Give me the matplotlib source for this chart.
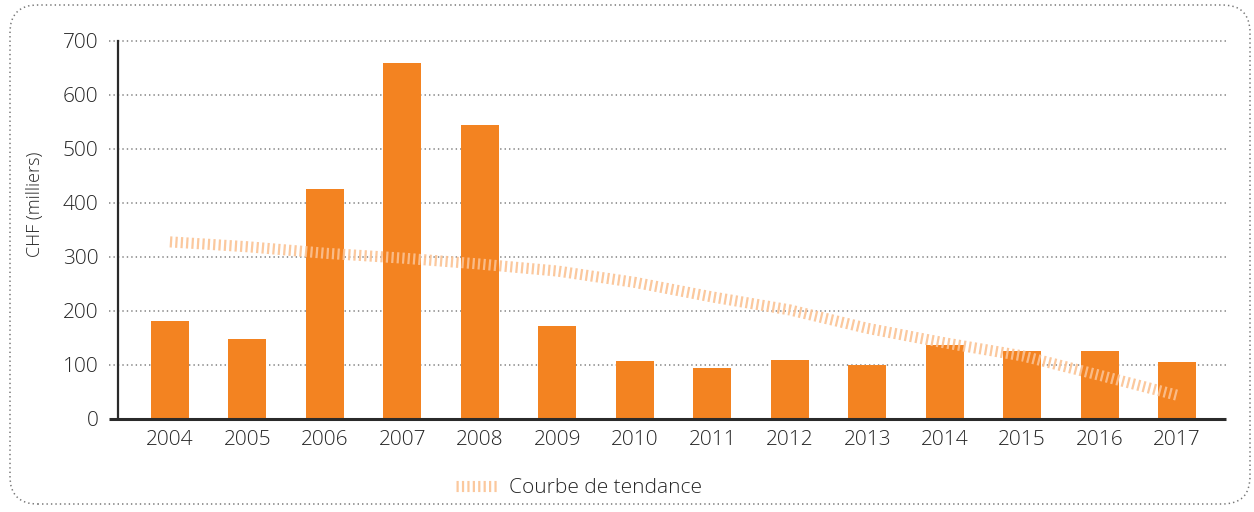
import matplotlib
matplotlib.use("Agg")
import matplotlib.pyplot as plt
from matplotlib.patches import FancyBboxPatch
from matplotlib.lines import Line2D
import matplotlib.transforms as mtransforms

plt.rcParams['font.family'] = ['Open Sans', 'DejaVu Sans']
plt.rcParams['font.weight'] = 'light'
plt.rcParams['lines.scale_dashes'] = False

years = ['2004', '2005', '2006', '2007', '2008', '2009', '2010',
         '2011', '2012', '2013', '2014', '2015', '2016', '2017']
values = [181, 148, 426, 659, 544, 172, 107, 94, 109, 100, 137, 126, 126, 106]
trend = [328, 319, 307, 298, 287, 274, 253, 226, 202, 168, 141, 117, 81, 44]
yticks = [0, 100, 200, 300, 400, 500, 600, 700]

bar_color = '#F38321'
trend_color = '#FBC293'
text_color = '#262626'
grid_color = '#8a8a8a'

fig = plt.figure(figsize=(12.54, 5.12), dpi=100)
ax = fig.add_axes([118/1254, 1-419/512, (1226-118)/1254, (419-41)/512])

x = list(range(len(years)))
ax.bar(x, values, width=0.49, color=bar_color, zorder=2)
ax.plot(x, trend, color=trend_color, lw=8, solid_capstyle='butt',
        dash_capstyle='butt', dashes=(1.6, 2.3), zorder=3, alpha=0.9)

ax.set_xlim(-0.67, 13.63)
ax.set_ylim(0, 700)
ax.set_xticks(x)
ax.set_xticklabels(years)
ax.set_yticks(yticks)
ax.tick_params(axis='both', length=0, labelsize=15, colors=text_color)
ax.tick_params(axis='x', pad=8)
ax.tick_params(axis='y', pad=14)

for s in ['top', 'right', 'bottom']:
    ax.spines[s].set_visible(False)
ax.spines['left'].set_color('#2a2a2a')
ax.spines['left'].set_linewidth(1.6)

trans = mtransforms.blended_transform_factory(ax.transAxes, ax.transData)
x0 = (109 - 118) / (1226 - 118)
for yv in yticks[1:]:
    ax.plot([x0, 1.0], [yv, yv], transform=trans, color=grid_color, lw=1.2,
            ls=(0, (1, 2.2)), clip_on=False, zorder=1)
ax.plot([x0, 1.0], [0, 0], transform=trans, color='#2a2a2a', lw=2.2,
        clip_on=False, zorder=4, solid_capstyle='butt')

fig.text(35/1254, 1-204/512, 'CHF (milliers)', rotation=90, fontsize=13,
         color=text_color, ha='center', va='center')

# legend
handle = Line2D([], [], color=trend_color, lw=8, dashes=(1.6, 2.3),
                dash_capstyle='butt', alpha=0.9)
fig.legend([handle], ['Courbe de tendance'], loc='center left',
           bbox_to_anchor=(437/1254, 1-488/512), frameon=False,
           fontsize=15, labelcolor=text_color, handlelength=2.0,
           handletextpad=0.55)

# dotted rounded border
border = FancyBboxPatch((10/1254, 8/512), (1250-10)/1254, (507-8)/512,
                        boxstyle='round,pad=0,rounding_size=0.022',
                        transform=fig.transFigure, fill=False,
                        edgecolor='#777777', lw=1.1, ls=(0, (1, 2.2)),
                        mutation_aspect=1254/512)
fig.patches.append(border)

fig.savefig('out.png', dpi=100)
